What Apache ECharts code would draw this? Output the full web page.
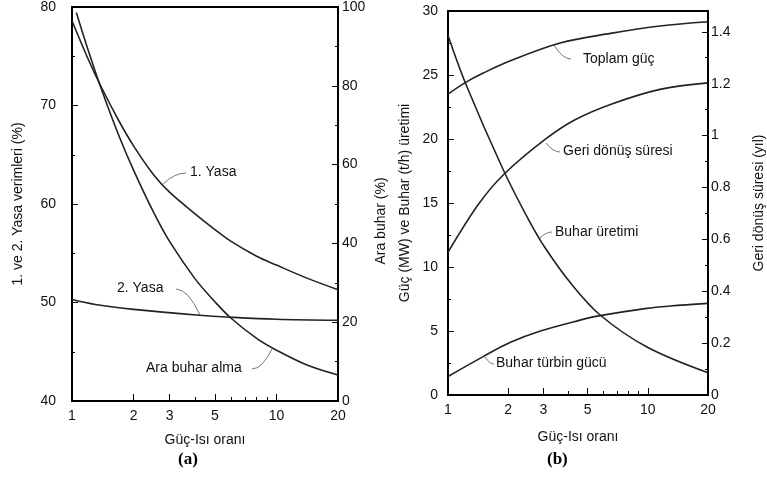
<!DOCTYPE html>
<html>
<head>
<meta charset="utf-8">
<script src="https://cdn.jsdelivr.net/npm/echarts@6/dist/echarts.min.js"></script>
<style>
  html, body { margin: 0; padding: 0; background: #fff; }
  #chart { width: 767px; height: 479px; }
</style>
</head>
<body>
<div id="chart"></div>
<script>
// x axis (log scale, drawn on a value axis in log10 space)
var xTickLabels = [1, 2, 3, 5, 10, 20];
var xMajorTicks = [2, 3, 5, 10];
var xMinorTicks = [4, 6, 7, 8, 9];

// panel (a)
var yasa1X = [1, 1.2, 1.4, 1.7, 2, 2.5, 3, 4, 5, 6, 8, 10, 14, 20];
var yasa1Y = [78.6, 74.7, 71.75, 68.4, 65.9, 63.0, 61.2, 59.0, 57.4, 56.2, 54.7, 53.8, 52.5, 51.3];
var yasa2X = [1, 1.3, 2, 4.2, 6, 10, 20];
var yasa2Y = [50.3, 49.8, 49.3, 48.7, 48.5, 48.3, 48.2];
var araBuharX = [1.05, 1.2, 1.4, 1.7, 2, 2.5, 3, 4, 5, 6, 8, 10, 14, 20];
var araBuharY = [98.6, 89.0, 78.8, 67.2, 58.6, 48.0, 40.5, 31.0, 25.2, 21.0, 15.9, 12.9, 9.2, 6.6];

// panel (b)
var toplamX = [1, 1.22, 1.5, 2.08, 3.64, 6.5, 11.5, 20];
var toplamY = [23.5, 24.4, 25.15, 26.15, 27.5, 28.25, 28.83, 29.16];
var buharX = [1, 1.22, 1.89, 2.57, 3.06, 4.08, 5.77, 9.9, 20];
var buharY = [28.1, 24.4, 17.6, 13.5, 11.5, 8.8, 6.25, 3.75, 1.74];
var turbinX = [1, 1.5, 2.04, 2.9, 4.58, 5.77, 9.87, 12.9, 20];
var turbinY = [1.45, 3.0, 4.1, 5.0, 5.85, 6.2, 6.77, 6.95, 7.16];
var geriX = [1, 1.42, 1.9, 3.06, 4.3, 6.5, 11.5, 20];
var geriY = [0.55, 0.735, 0.85, 0.985, 1.06, 1.12, 1.178, 1.203];

var FONT = "'Liberation Sans', Arial, sans-serif";
var INK = '#111';
var LINE = '#222';
var LOG20 = Math.log10(20);

function pts(xs, ys) {
    return xs.map(function (x, i) { return [Math.log10(x), ys[i]]; });
}
function logs(arr) { return arr.map(function (v) { return Math.log10(v); }); }

function mainX(grid, gap) {
    return {
        type: 'value', gridIndex: grid, min: 0, max: LOG20, position: 'bottom',
        name: 'Güç-Isı oranı', nameLocation: 'middle', nameGap: gap,
        nameTextStyle: { fontFamily: FONT, fontSize: 14, color: INK },
        axisLine: { onZero: false, lineStyle: { color: '#000', width: 2 } },
        axisTick: { inside: true, length: 7, customValues: logs(xMajorTicks), lineStyle: { color: '#000', width: 1 } },
        axisLabel: {
            customValues: logs(xTickLabels), margin: 8,
            fontFamily: FONT, fontSize: 14, color: INK,
            formatter: function (v) { return String(Math.round(Math.pow(10, v))); }
        },
        splitLine: { show: false }
    };
}
function minorX(grid) {
    return {
        type: 'value', gridIndex: grid, min: 0, max: LOG20, position: 'bottom',
        axisLine: { show: false, onZero: false },
        axisTick: { show: true, inside: true, length: 4, customValues: logs(xMinorTicks), lineStyle: { color: '#000', width: 1 } },
        axisLabel: { show: false },
        splitLine: { show: false }
    };
}
function yAx(grid, pos, min, max, interval, name, gap, margin, pad) {
    return {
        type: 'value', gridIndex: grid, position: pos, min: min, max: max, interval: interval,
        name: name, nameLocation: 'middle', nameGap: gap,
        nameTextStyle: { fontFamily: FONT, fontSize: 14, color: INK, padding: pad || 0 },
        axisLine: { show: true, onZero: false, lineStyle: { color: '#000', width: 2 } },
        axisTick: { show: true, inside: true, length: 6, lineStyle: { color: '#000', width: 1 } },
        minorTick: { show: true, splitNumber: 2, length: 3, lineStyle: { color: '#000', width: 1 } },
        axisLabel: { margin: margin, fontFamily: FONT, fontSize: 14, color: INK, showMaxLabel: max === 1.48 ? false : true },
        splitLine: { show: false }
    };
}
function curve(name, xs, ys, xi, yi) {
    return {
        name: name, type: 'line', xAxisIndex: xi, yAxisIndex: yi,
        data: pts(xs, ys), showSymbol: false, smooth: 0.35,
        lineStyle: { color: LINE, width: 1.6 }, silent: true
    };
}

// curve labels: text position, then leader from the text side to the curve
var notes = [
    { text: '1. Yasa', x: 190, y: 173, from: [186, 173], to: [163, 184] },
    { text: '2. Yasa', x: 117, y: 289, from: [176, 289], to: [200, 315] },
    { text: 'Ara buhar alma', x: 146, y: 369, from: [252, 369], to: [272, 349] },
    { text: 'Toplam güç', x: 583, y: 60, from: [571, 59], to: [554, 45] },
    { text: 'Geri dönüş süresi', x: 563, y: 152, from: [560, 152], to: [546, 143] },
    { text: 'Buhar üretimi', x: 555, y: 233, from: [552, 232], to: [539, 239] },
    { text: 'Buhar türbin gücü', x: 496, y: 364, from: [494, 364], to: [485, 357] }
];

var graphics = [];
notes.forEach(function (n) {
    graphics.push({
        type: 'text', left: n.x, top: n.y - 8, silent: true,
        style: { text: n.text, font: '14px ' + FONT, fill: INK }
    });
    graphics.push({
        type: 'bezierCurve', silent: true,
        shape: {
            x1: n.from[0], y1: n.from[1], x2: n.to[0], y2: n.to[1],
            cpx1: n.from[0] + (n.to[0] - n.from[0]) * 0.5, cpy1: n.from[1]
        },
        style: { stroke: '#777', lineWidth: 1, fill: null }
    });
});
graphics.push({ type: 'text', left: 178, top: 451, silent: true,
    style: { text: '(a)', font: 'bold 17px "Liberation Serif", "Times New Roman", serif', fill: '#000' } });
graphics.push({ type: 'text', left: 547, top: 451, silent: true,
    style: { text: '(b)', font: 'bold 17px "Liberation Serif", "Times New Roman", serif', fill: '#000' } });

var chart = echarts.init(document.getElementById('chart'), null, { renderer: 'canvas' });
chart.setOption({
    animation: false,
    backgroundColor: '#fff',
    grid: [
        { left: 72, right: 429, top: 6, bottom: 78, show: true, borderColor: '#000', borderWidth: 2, backgroundColor: 'transparent' },
        { left: 448, right: 59, top: 11, bottom: 84, show: true, borderColor: '#000', borderWidth: 2, backgroundColor: 'transparent' }
    ],
    xAxis: [mainX(0, 32), minorX(0), mainX(1, 35), minorX(1)],
    yAxis: [
        yAx(0, 'left', 40, 80, 10, '1. ve 2. Yasa verimleri (%)', 47, 16),
        yAx(0, 'right', 0, 100, 20, 'Ara buhar (%)', 36, 4, [0, 34, 0, 0]),
        yAx(1, 'left', 0, 30, 5, 'Güç (MW) ve Buhar (t/h) üretimi', 36, 10),
        yAx(1, 'right', 0, 1.48, 0.2, 'Geri dönüş süresi (yıl)', 44, 3)
    ],
    series: [
        curve('1. Yasa', yasa1X, yasa1Y, 0, 0),
        curve('2. Yasa', yasa2X, yasa2Y, 0, 0),
        curve('Ara buhar alma', araBuharX, araBuharY, 0, 1),
        curve('Toplam güç', toplamX, toplamY, 2, 2),
        curve('Buhar üretimi', buharX, buharY, 2, 2),
        curve('Buhar türbin gücü', turbinX, turbinY, 2, 2),
        curve('Geri dönüş süresi', geriX, geriY, 2, 3)
    ],
    graphic: graphics
});
</script>
</body>
</html>
